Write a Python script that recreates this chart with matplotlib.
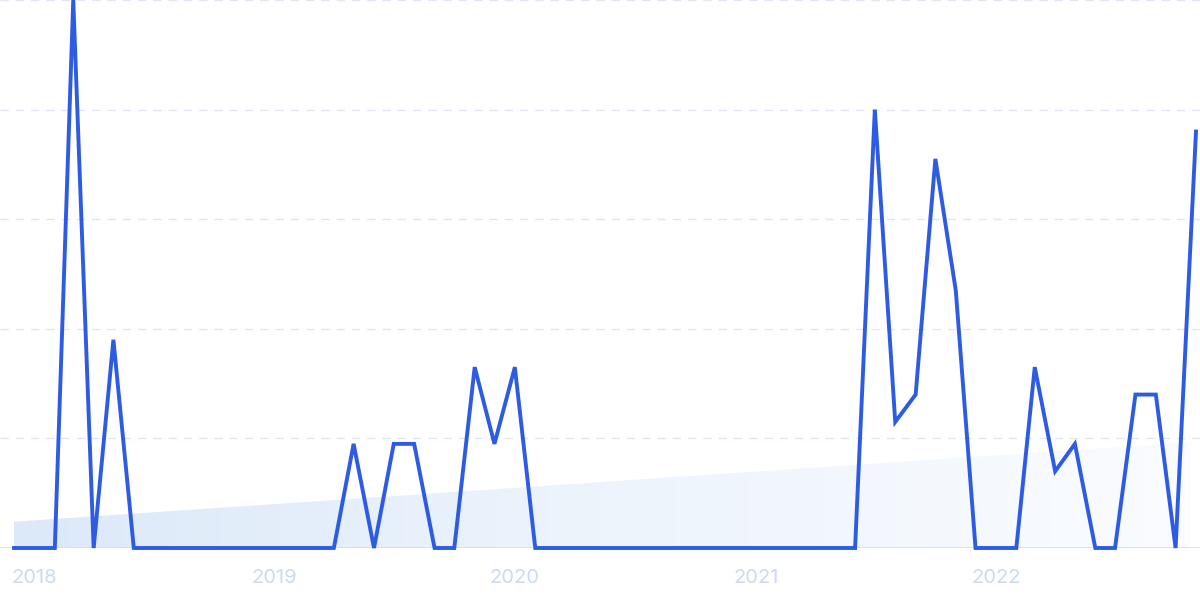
import matplotlib
matplotlib.use("Agg")
import matplotlib.pyplot as plt
import matplotlib.dates as mdates
import numpy as np
import pandas as pd
from matplotlib.patches import Polygon
from matplotlib.colors import LinearSegmentedColormap

months = pd.date_range("2017-12-01", periods=60, freq="MS")
values = [0, 0, 0, 100, 0, 38, 0, 0, 0, 0, 0, 0,
          0, 0, 0, 0, 0, 19, 0, 19, 19, 0, 0, 33,
          19, 33, 0, 0, 0, 0, 0, 0, 0, 0, 0, 0,
          0, 0, 0, 0, 0, 0, 0, 80, 23, 28, 71, 47,
          0, 0, 0, 33, 14, 19, 0, 0, 28, 28, 0, 76]
trend_start = 4.8
trend_end = 19.3
year_ticks = ["2018-01-01", "2019-01-01", "2020-01-01", "2021-01-01", "2022-01-01"]
year_labels = ["2018", "2019", "2020", "2021", "2022"]

fig = plt.figure(figsize=(12, 6), dpi=100)
ax = fig.add_axes([0, 52 / 600, 1, 548 / 600])

x = mdates.date2num(months.to_pydatetime())
step = (x[-1] - x[0]) / 59
ax.set_xlim(x[0] - 0.7 * step, x[-1] + 0.2 * step)
ax.set_ylim(0, 100)

# gradient trend area
x0, x1 = x[0], x[-1] - 0.3 * step
poly = Polygon([[x0, 0], [x0, trend_start], [x1, trend_end], [x1, 0]],
               closed=True, facecolor="none", edgecolor="none")
ax.add_patch(poly)
grad = np.linspace(0, 1, 256).reshape(1, -1)
cmap = LinearSegmentedColormap.from_list("g", ["#dce9f9", "#edf4fc", "#fafcff"])
im = ax.imshow(grad, extent=[x0, x1, 0, trend_end], aspect="auto", cmap=cmap,
               origin="lower", zorder=1)
im.set_clip_path(poly)

# grid
for g in [20, 40, 60, 80, 100]:
    ax.axhline(g, color="#dfe7f5", lw=1, ls=(0, (6, 5)), zorder=0)
ax.axhline(0, color="#cae0fb", lw=1.2, zorder=2)

ax.plot(x, values, color="#2d5be3", lw=2.8, solid_joinstyle="miter",
        zorder=3, clip_on=False)

for s in ax.spines.values():
    s.set_visible(False)
ax.set_yticks([])
ax.set_xticks(mdates.date2num(pd.to_datetime(year_ticks).to_pydatetime()))
ax.set_xticklabels(year_labels, fontsize=14.5, color="#cdd9f2", family=["Inter", "DejaVu Sans"])
ax.tick_params(axis="x", length=0, pad=15)

fig.savefig("out.png", dpi=100)
